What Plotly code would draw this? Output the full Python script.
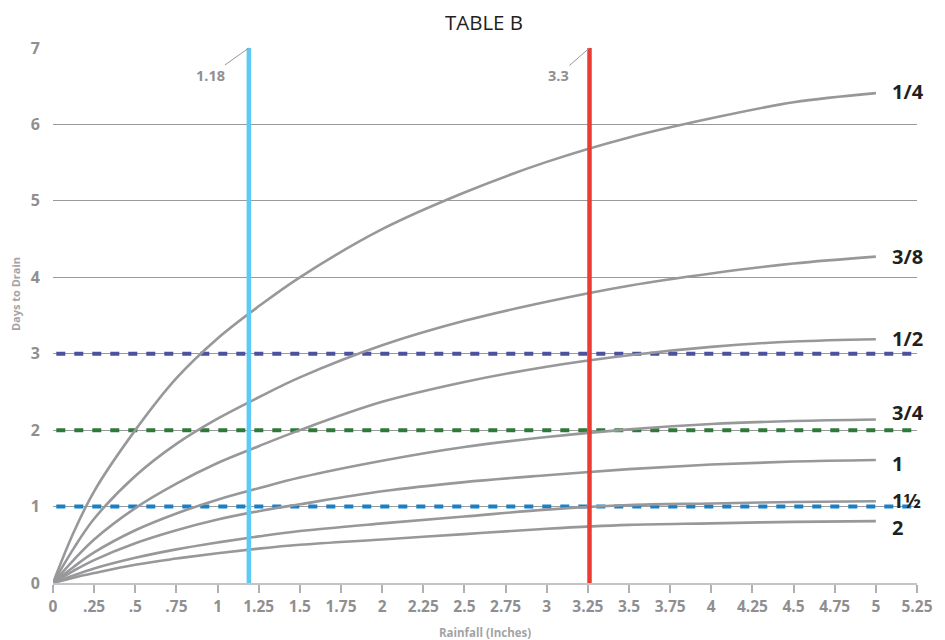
import plotly.graph_objects as go

# ---- data ----
rain_x = [0, 0.125, 0.25, 0.5, 0.75, 1.0, 1.25, 1.5, 2.0, 2.5, 3.0, 3.5, 4.0, 4.5, 5.0]
curve_names = ["1/4", "3/8", "1/2", "3/4", "1", "1½", "2"]
days_q14 = [0, 0.66, 1.2, 2.0, 2.68, 3.2, 3.62, 4.0, 4.63, 5.11, 5.51, 5.83, 6.08, 6.29, 6.41]
days_q38 = [0, 0.45, 0.84, 1.4, 1.82, 2.15, 2.43, 2.69, 3.11, 3.43, 3.68, 3.89, 4.05, 4.18, 4.27]
days_q12 = [0, 0.3, 0.57, 0.98, 1.3, 1.57, 1.79, 2.0, 2.37, 2.63, 2.83, 2.98, 3.09, 3.16, 3.19]
days_q34 = [0, 0.21, 0.4, 0.69, 0.91, 1.09, 1.24, 1.38, 1.6, 1.78, 1.91, 2.01, 2.08, 2.12, 2.14]
days_1 = [0, 0.16, 0.3, 0.52, 0.69, 0.83, 0.94, 1.03, 1.2, 1.32, 1.41, 1.49, 1.55, 1.59, 1.61]
days_1h = [0, 0.1, 0.19, 0.33, 0.44, 0.53, 0.61, 0.68, 0.78, 0.87, 0.96, 1.02, 1.04, 1.06, 1.07]
days_2 = [0, 0.07, 0.13, 0.24, 0.32, 0.39, 0.45, 0.5, 0.57, 0.64, 0.71, 0.76, 0.78, 0.8, 0.81]
curves = [days_q14, days_q38, days_q12, days_q34, days_1, days_1h, days_2]
label_y = [6.43, 4.27, 3.2, 2.23, 1.57, 1.08, 0.72]

threshold_days = [3, 2, 1]
threshold_colors = ["#4b519e", "#2e7a38", "#1a80c6"]

marker_x = [1.19, 3.26]
marker_text = ["1.18", "3.3"]
marker_colors = ["#5ccaf4", "#ec3b33"]

xtick_vals = [0, 0.25, 0.5, 0.75, 1, 1.25, 1.5, 1.75, 2, 2.25, 2.5, 2.75, 3, 3.25, 3.5,
              3.75, 4, 4.25, 4.5, 4.75, 5, 5.25]
xtick_text = ["0", ".25", ".5", ".75", "1", "1.25", "1.5", "1.75", "2", "2.25", "2.5", "2.75",
              "3", "3.25", "3.5", "3.75", "4", "4.25", "4.5", "4.75", "5", "5.25"]
ytick_vals = [0, 1, 2, 3, 4, 5, 6, 7]

FONT = "Open Sans"
fig = go.Figure()

# dashed threshold lines
for d, c in zip(threshold_days, threshold_colors):
    fig.add_trace(go.Scatter(x=[0.02, 5.25], y=[d, d], mode="lines",
                             line=dict(color=c, width=4, dash="9px,9px"),
                             hoverinfo="skip", showlegend=False))

# curves
for name, ys in zip(curve_names, curves):
    fig.add_trace(go.Scatter(x=rain_x, y=ys, mode="lines", name=name,
                             line=dict(color="#98989b", width=2.6, shape="spline", smoothing=1.0),
                             showlegend=False))

# vertical markers
for mx, c in zip(marker_x, marker_colors):
    fig.add_trace(go.Scatter(x=[mx, mx], y=[0, 7], mode="lines",
                             line=dict(color=c, width=4.5),
                             hoverinfo="skip", showlegend=False))

annotations = []
for name, ly in zip(curve_names, label_y):
    annotations.append(dict(x=5.085, y=ly, xref="x", yref="y", text="<b>" + name + "</b>",
                            showarrow=False, xanchor="left", yanchor="middle",
                            font=dict(family=FONT, size=20, color="#231f20")))
for mx, t, axo in zip(marker_x, marker_text, [-38, -31]):
    annotations.append(dict(x=mx, y=7, xref="x", yref="y", text="<b>" + t + "</b>",
                            showarrow=True, arrowhead=0, arrowwidth=1, arrowcolor="#999999",
                            ax=axo, ay=27, standoff=0, borderpad=0,
                            font=dict(family=FONT, size=14.5, color="#8f8f92")))
annotations.append(dict(x=0.5, y=-0.092, xref="paper", yref="paper", text="<b>Rainfall (Inches)</b>",
                        showarrow=False, xanchor="center", yanchor="middle",
                        font=dict(family=FONT, size=11.5, color="#a3a3a6")))
annotations.append(dict(x=-0.044, y=0.54, xref="paper", yref="paper", text="<b>Days to Drain</b>",
                        showarrow=False, xanchor="center", yanchor="middle", textangle=-90,
                        font=dict(family=FONT, size=11, color="#a3a3a6")))

fig.update_layout(
    width=937, height=632,
    margin=dict(l=45, r=24, t=40, b=57),
    paper_bgcolor="white", plot_bgcolor="white",
    title=dict(text="TABLE B", x=0.508, xanchor="center", y=0.977, yanchor="middle",
               font=dict(family=FONT, size=20.5, color="#231f20")),
    annotations=annotations,
    xaxis=dict(range=[0, 5.25], tickvals=xtick_vals, ticktext=xtick_text,
               showgrid=False, zeroline=False, showline=True, linecolor="#c4c4c6", linewidth=2,
               ticks="outside", ticklen=8, tickwidth=1.5, tickcolor="#b0b0b3",
               tickfont=dict(family=FONT, size=15.5, color="#8f8f92", weight="bold")),
    yaxis=dict(range=[0, 7], tickvals=ytick_vals, showgrid=True, gridcolor="#9a9a9c", gridwidth=1,
               zeroline=False, showline=False, ticks="", ticklabelstandoff=12,
               tickfont=dict(family=FONT, size=16, color="#8f8f92", weight="bold")),
)

fig.write_html("out.html")
